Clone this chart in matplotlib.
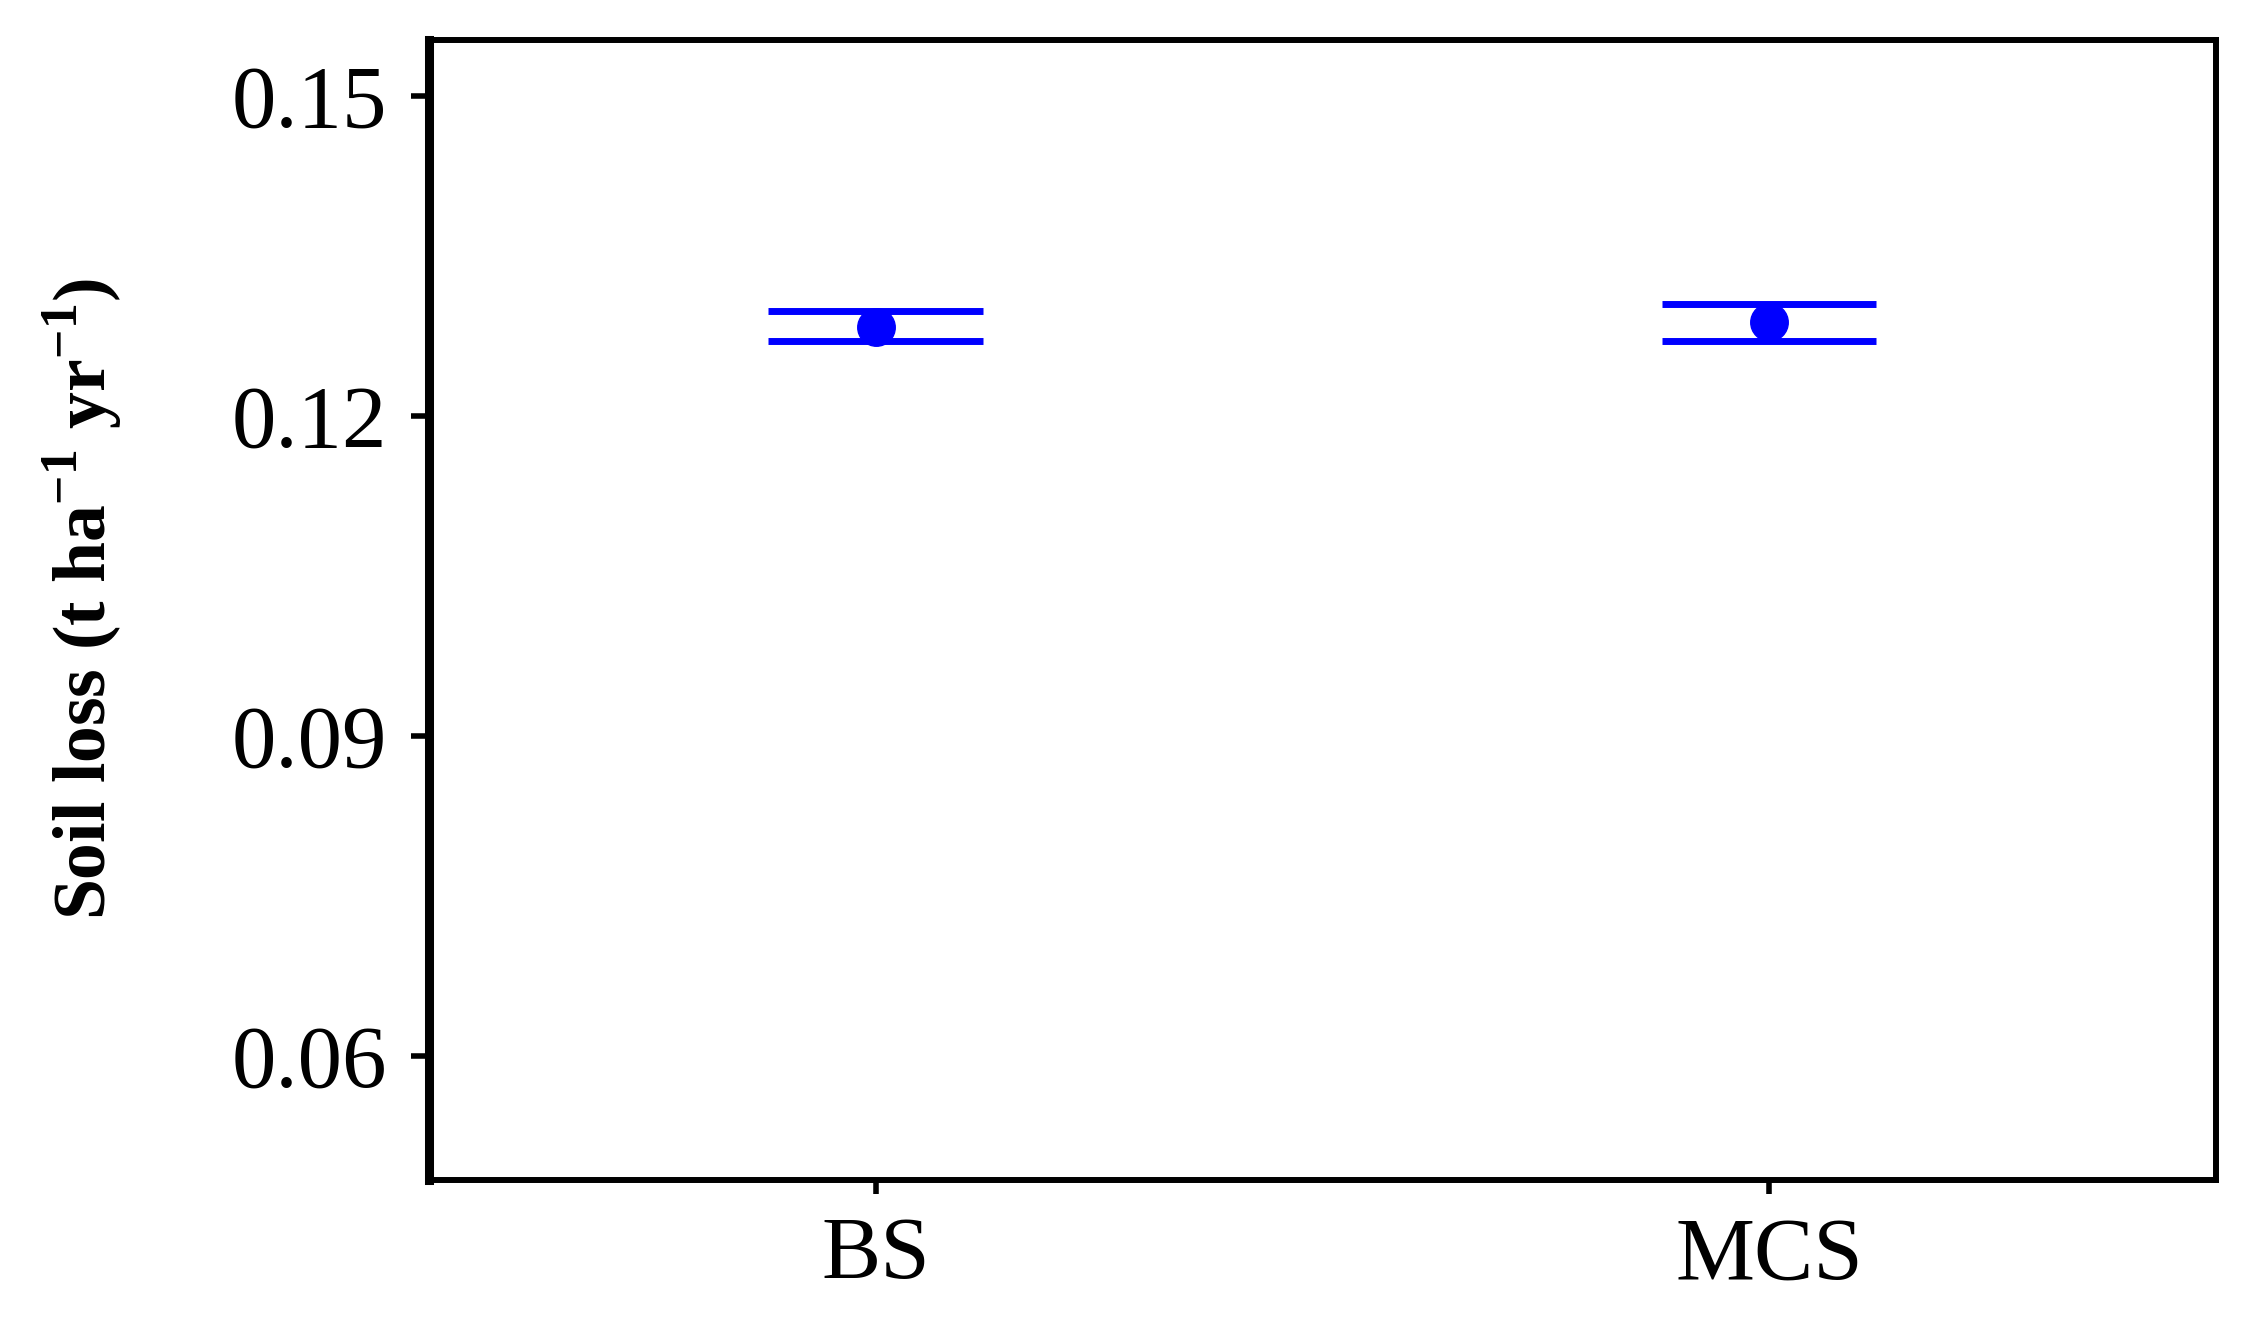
import matplotlib
matplotlib.use("Agg")
import matplotlib.pyplot as plt

# Soil loss per treatment (mean with lower / upper bounds)
treatments = ["BS", "MCS"]
mean_loss = [0.12834, 0.12881]
lower_loss = [0.12703, 0.12703]
upper_loss = [0.12984, 0.13050]
y_ticks = [0.06, 0.09, 0.12, 0.15]

plt.rcParams.update({
    "font.family": "Liberation Serif",
    "mathtext.fontset": "custom",
    "mathtext.rm": "Liberation Serif",
    "mathtext.bf": "Liberation Serif:bold",
})

fig = plt.figure(figsize=(22.47, 13.33), dpi=100)
ax = fig.add_axes([0.1909, 0.1148, 0.7953, 0.8552])

x_pos = list(range(1, len(treatments) + 1))
half_w = 0.12
for x, lo, hi in zip(x_pos, lower_loss, upper_loss):
    ax.hlines([lo, hi], x - half_w, x + half_w, colors="#0000ff", linewidth=5)
ax.plot(x_pos, mean_loss, "o", color="#0000ff", markersize=27, linestyle="none")

ax.set_xlim(0.5, 2.5)
ax.set_ylim(0.04838, 0.15525)
ax.set_xticks(x_pos)
ax.set_xticklabels(treatments)
ax.set_yticks(y_ticks)
ax.set_yticklabels([f"{v:.2f}" for v in y_ticks])

for side in ["top", "right", "bottom"]:
    ax.spines[side].set_linewidth(4.3)
ax.spines["left"].set_linewidth(6.5)

ax.tick_params(axis="y", labelsize=64, length=13, width=4, pad=17)
ax.tick_params(axis="x", labelsize=64, length=10, width=4, pad=16)

ax.set_ylabel(r"Soil loss (t ha$^{\mathbf{-1}}$ yr$^{\mathbf{-1}}$)",
              fontsize=53, fontweight="bold")
ax.yaxis.set_label_coords(-0.17, 0.51)

fig.savefig("out.png", dpi=100)
